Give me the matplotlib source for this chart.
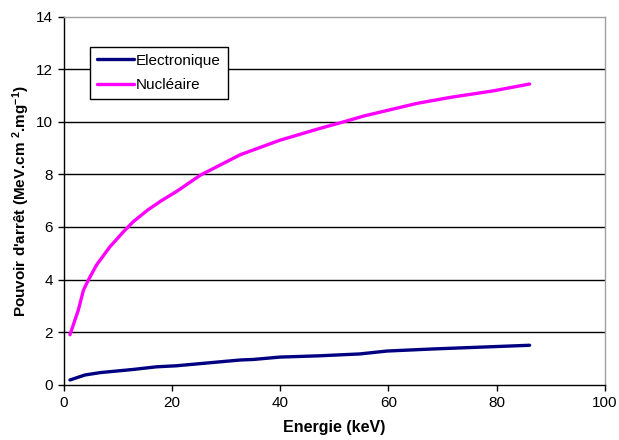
import matplotlib
matplotlib.use("Agg")
import matplotlib.pyplot as plt

plt.rcParams['font.family'] = ['Liberation Sans', 'DejaVu Sans']
plt.rcParams['mathtext.fontset'] = 'custom'
plt.rcParams['mathtext.rm'] = 'Liberation Sans:bold'
plt.rcParams['mathtext.default'] = 'rm'

# Data
nuc_x = [1.1, 2.65, 3.6, 4.5, 6.0, 8.5, 11.0, 12.8, 15.5, 18.0, 20.8, 25.2, 32.6, 39.9, 47.3, 51.7, 55.4, 65.2, 71.4, 79.4, 86.1]
nuc_y = [1.9, 2.84, 3.6, 3.98, 4.55, 5.25, 5.82, 6.2, 6.65, 7.0, 7.35, 7.97, 8.75, 9.3, 9.75, 10.0, 10.22, 10.7, 10.93, 11.18, 11.44]
ele_x = [1.1, 3.9, 6.7, 12.8, 17.1, 20.8, 32.6, 35.0, 39.9, 47.3, 54.7, 59.7, 68.3, 86.1]
ele_y = [0.18, 0.37, 0.46, 0.58, 0.68, 0.72, 0.94, 0.96, 1.05, 1.10, 1.17, 1.28, 1.36, 1.50]

xticks = [0, 20, 40, 60, 80, 100]
yticks = [0, 2, 4, 6, 8, 10, 12, 14]

fig = plt.figure(figsize=(6.19, 4.40), dpi=100)
ax = fig.add_axes([0.1034, 0.1257, 0.8736, 0.8363])

for yv in yticks[1:-1]:
    ax.axhline(yv, color='black', lw=1.0, zorder=0)

ax.plot(ele_x, ele_y, color='#000080', lw=2.4, label='Electronique', solid_capstyle='round')
ax.plot(nuc_x, nuc_y, color='#FF00FF', lw=2.4, label='Nucléaire', solid_capstyle='round')

ax.set_xlim(0, 100)
ax.set_ylim(0, 14)
ax.set_xticks(xticks)
ax.set_yticks(yticks)
ax.tick_params(axis='both', labelsize=11, direction='out', length=4, width=1, color='black', pad=4)
for s in ['left', 'bottom']:
    ax.spines[s].set_color('black')
    ax.spines[s].set_linewidth(1.0)
for s in ['top', 'right']:
    ax.spines[s].set_color('#a0a0a0')
    ax.spines[s].set_linewidth(1.0)

ax.set_xlabel('Energie (keV)', fontsize=11.5, fontweight='bold', labelpad=7)
ax.set_ylabel(r"Pouvoir d'arrêt (MeV.cm $^{2}$.mg$^{-1}$)", fontsize=11, fontweight='bold', labelpad=3)

leg = ax.legend(loc='upper left', bbox_to_anchor=(0.048, 0.918), fontsize=11, frameon=True,
                fancybox=False, edgecolor='black', framealpha=1, borderpad=0.45,
                handlelength=2.4, handletextpad=0.15, labelspacing=0.7, borderaxespad=0)
leg.get_frame().set_linewidth(1.0)

fig.savefig('out.png', dpi=100)
